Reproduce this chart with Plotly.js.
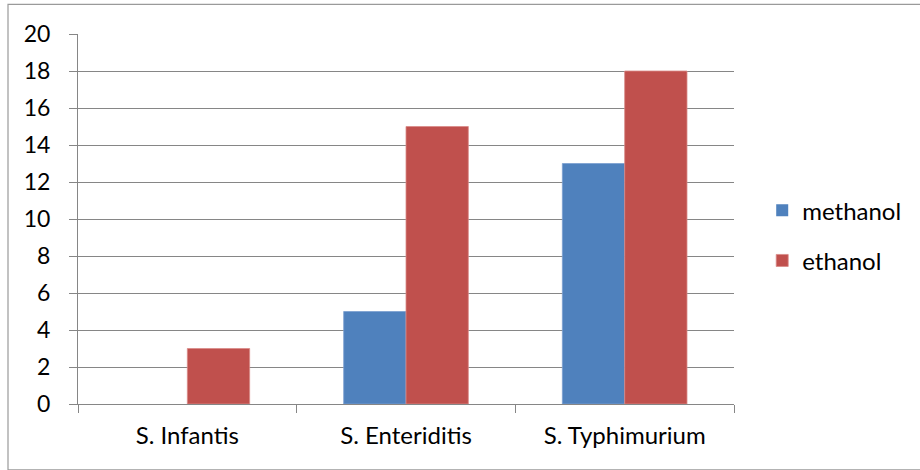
<!DOCTYPE html>
<html>
<head>
<meta charset="utf-8">
<script src="https://cdn.plot.ly/plotly-3.0.1.min.js"></script>
<style>html,body{margin:0;padding:0;background:#fff;}#chart{width:920px;height:470px;}</style>
</head>
<body>
<div id="chart"></div>
<script>
var categories = ["S. Infantis", "S. Enteriditis", "S. Typhimurium"];
var seriesNames = ["methanol", "ethanol"];
var methanolValues = [0, 5, 13];
var ethanolValues = [3, 15, 18];
var yTickValues = [0, 2, 4, 6, 8, 10, 12, 14, 16, 18, 20];

var FONT = "Lato, 'Liberation Sans', sans-serif";
function edgeWidths(vals) { return vals.map(function (v) { return v > 0 ? 0.8 : 0; }); }

var traces = [
  {type: "bar", name: seriesNames[0], x: categories, y: methanolValues,
   marker: {color: "#4F81BD", line: {color: "#7BA0D0", width: edgeWidths(methanolValues)}}, legendgroup: "a"},
  {type: "bar", name: seriesNames[1], x: categories, y: ethanolValues,
   marker: {color: "#C0504D", line: {color: "#D98A88", width: edgeWidths(ethanolValues)}}, legendgroup: "b"}
];

var layout = {
  width: 920, height: 470,
  margin: {l: 78, r: 186, t: 34, b: 66},
  paper_bgcolor: "#ffffff", plot_bgcolor: "#ffffff",
  font: {family: FONT, size: 24, color: "#000000"},
  barmode: "group", bargap: 0.43, bargroupgap: 0,
  showlegend: true,
  legend: {x: 1.043, xanchor: "left", y: 0.455, yanchor: "middle",
           font: {family: FONT, size: 24, color: "#000"}, tracegroupgap: 16,
           itemwidth: 30, bgcolor: "rgba(0,0,0,0)"},
  xaxis: {type: "category", showgrid: false, showline: true, linecolor: "#868686", linewidth: 1,
          ticks: "outside", tickson: "boundaries", ticklen: 8, tickcolor: "#868686",
          tickfont: {family: FONT, size: 24}, zeroline: false, ticklabelstandoff: 10},
  yaxis: {range: [0, 20], tickvals: yTickValues, showgrid: true, gridcolor: "#868686", gridwidth: 1,
          showline: true, linecolor: "#868686", linewidth: 1, ticks: "outside", ticklen: 8,
          tickcolor: "#868686", tickfont: {family: FONT, size: 23}, zeroline: false,
          ticklabelstandoff: 14},
  shapes: [{type: "rect", xref: "paper", yref: "paper",
            x0: -0.1067, x1: 1.32, y0: -0.178, y1: 1.08,
            line: {color: "#9a9a9a", width: 1.2}, fillcolor: "rgba(0,0,0,0)", layer: "below"}]
};

Plotly.newPlot("chart", traces, layout, {displayModeBar: false, staticPlot: true});
</script>
</body>
</html>
